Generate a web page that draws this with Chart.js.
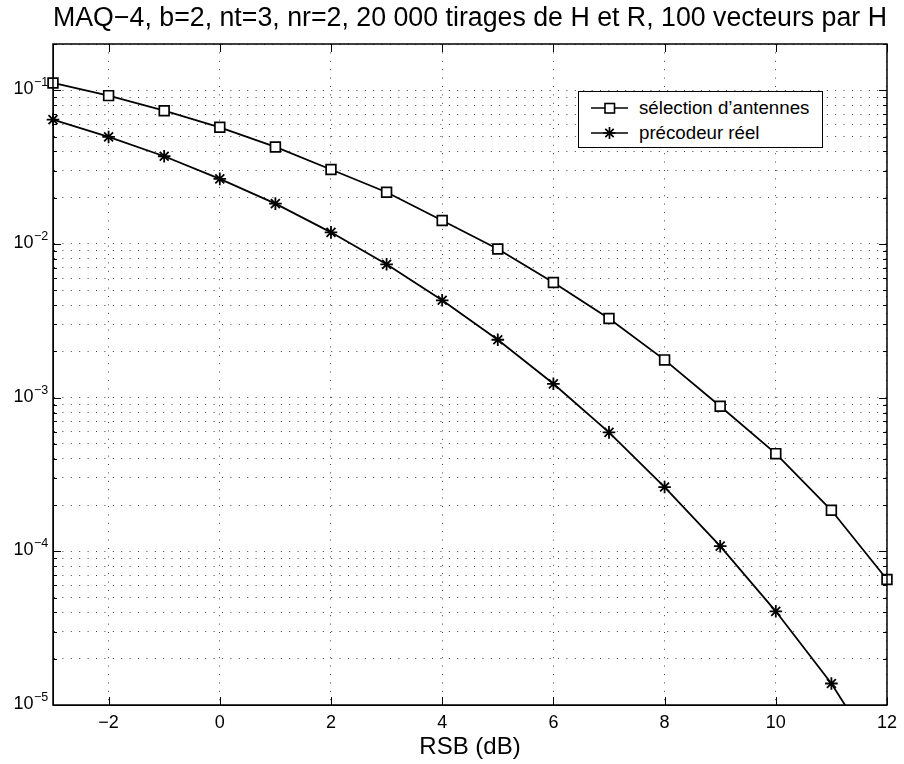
<!DOCTYPE html>
<html>
<head>
<meta charset="utf-8">
<script src="https://cdn.jsdelivr.net/npm/chart.js@4.4.1/dist/chart.umd.min.js"></script>
<style>
  html, body { margin: 0; padding: 0; background: #fff; }
  #wrap { position: relative; width: 904px; height: 764px; }
  #legend {
    position: absolute; left: 578px; top: 91px; width: 245px; height: 57px;
    box-sizing: border-box; border: 1px solid #000; background: #fff;
    font-family: 'Liberation Sans', Arial, Helvetica, sans-serif; font-size: 18.7px; color: #000;
  }
  #legend .row { position: absolute; left: 0; height: 24px; width: 100%; }
  #legend svg { position: absolute; left: 12px; top: 0; }
  #legend span { position: absolute; left: 60px; top: 0; line-height: 24px; white-space: nowrap; }
</style>
</head>
<body>
<div id="wrap">
  <canvas id="berChart" width="904" height="764"></canvas>
  <div id="legend"></div>
</div>
<script>
// SNR axis (dB) and the two BER curves
const snrDb = [-3, -2, -1, 0, 1, 2, 3, 4, 5, 6, 7, 8, 9, 10, 11, 12];
const berSelection = [0.1116, 0.0923, 0.0736, 0.0574, 0.0428, 0.0305, 0.0217, 0.0142,
                      0.00928, 0.00562, 0.00327, 0.00176, 0.000878, 0.000432, 0.000185, 0.0000655];
const berPrecodeur = [0.0644, 0.0497, 0.0372, 0.0265, 0.0183, 0.0119, 0.00737, 0.00430,
                      0.00238, 0.00123, 0.000594, 0.000262, 0.000108, 0.0000407, 0.0000138, 0.0000037];
const seriesLabels = ['sélection d’antennes', 'précodeur réel'];
const titleText = 'MAQ−4, b=2, nt=3, nr=2, 20 000 tirages de H et R, 100 vecteurs par H';

// tick labels
const xTickValues = [-2, 0, 2, 4, 6, 8, 10, 12];
const yDecades    = [1e-5, 1e-4, 1e-3, 1e-2, 1e-1];
const yExponents  = ['−5', '−4', '−3', '−2', '−1'];
const yMinorSteps = [2, 3, 4, 5, 6, 7, 8, 9];
const yMin = 1e-5, yMax = 0.2;

const FONT = "'Liberation Sans', Arial, Helvetica, sans-serif";

// grid at every 1..9 x 10^k, like the matlab log grid
const yGridValues = [];
yDecades.forEach(d => {
    yGridValues.push(d);
    yMinorSteps.forEach(m => { if (d * m <= yMax + 1e-12) yGridValues.push(d * m); });
});

const dottedGrid = { color: 'rgba(0,0,0,0.75)', lineWidth: 1, drawTicks: false };
const dottedBorder = { display: true, color: '#000', width: 1, dash: [1, 7.4] };

// box round the axes + inward tick marks
const framePlugin = {
    id: 'frame',
    afterDatasetsDraw(chart) {
        const { ctx, chartArea: a, scales: { x, y } } = chart;
        ctx.save();
        ctx.strokeStyle = '#000';
        ctx.lineWidth = 1.5;
        ctx.strokeRect(a.left, a.top, a.right - a.left, a.bottom - a.top);
        ctx.lineWidth = 1;
        ctx.beginPath();
        xTickValues.forEach(v => {
            const px = Math.round(x.getPixelForValue(v)) + 0.5;
            ctx.moveTo(px, a.bottom); ctx.lineTo(px, a.bottom - 8);
            ctx.moveTo(px, a.top);    ctx.lineTo(px, a.top + 8);
        });
        yGridValues.forEach(v => {
            const py = Math.round(y.getPixelForValue(v)) + 0.5;
            const len = yDecades.includes(v) ? 8 : 4;
            ctx.moveTo(a.left, py);  ctx.lineTo(a.left + len, py);
            ctx.moveTo(a.right, py); ctx.lineTo(a.right - len, py);
        });
        ctx.stroke();
        ctx.restore();
    }
};

// 10^k labels with a raised exponent
const yLabelPlugin = {
    id: 'yLabels',
    afterDraw(chart) {
        const { ctx, scales: { y } } = chart;
        ctx.save();
        ctx.fillStyle = '#000';
        yDecades.forEach((d, i) => {
            const py = y.getPixelForValue(d);
            ctx.font = '18px ' + FONT;
            ctx.textAlign = 'right';
            ctx.textBaseline = 'middle';
            ctx.fillText('10', 33.5, py - 1);
            ctx.font = '12.5px ' + FONT;
            ctx.textAlign = 'left';
            ctx.textBaseline = 'alphabetic';
            ctx.fillText(yExponents[i], 34, py - 4);
        });
        ctx.restore();
    }
};

const ctx = document.getElementById('berChart').getContext('2d');
const berChart = new Chart(ctx, {
    type: 'line',
    data: {
        datasets: [{
            label: seriesLabels[0],
            data: snrDb.map((x, i) => ({ x: x, y: berSelection[i] })),
            borderColor: '#000',
            borderWidth: 1.8,
            pointStyle: 'rect',
            pointRadius: 6.9,
            pointBorderWidth: 1.7,
            pointBackgroundColor: '#fff',
            pointBorderColor: '#000',
            tension: 0,
            clip: { left: 12, right: 12, top: 12, bottom: 0 }
        }, {
            label: seriesLabels[1],
            data: snrDb.map((x, i) => ({ x: x, y: berPrecodeur[i] })),
            borderColor: '#000',
            borderWidth: 1.8,
            pointStyle: 'star',
            pointRadius: 6.3,
            pointBorderWidth: 1.8,
            pointBackgroundColor: '#000',
            pointBorderColor: '#000',
            tension: 0,
            clip: { left: 12, right: 12, top: 12, bottom: 0 }
        }]
    },
    options: {
        responsive: false,
        animation: false,
        layout: { padding: { top: 0, right: 13, bottom: 0, left: 0 } },
        plugins: {
            legend: { display: false },
            tooltip: { enabled: false },
            title: {
                display: true,
                text: titleText,
                color: '#000',
                fullSize: false,
                font: { family: FONT, size: 27, weight: 'normal' },
                padding: { top: 2, bottom: 9.6 }
            }
        },
        scales: {
            x: {
                type: 'linear',
                min: -3,
                max: 12,
                afterBuildTicks: s => { s.ticks = xTickValues.map(v => ({ value: v })); },
                afterFit: s => { s.height = 59; },
                grid: dottedGrid,
                border: dottedBorder,
                ticks: {
                    padding: 7,
                    color: '#000',
                    font: { family: FONT, size: 18 },
                    callback: v => String(v).replace('-', '−')
                },
                title: {
                    display: true,
                    text: 'RSB (dB)',
                    color: '#000',
                    font: { family: FONT, size: 24 },
                    padding: { top: 0, bottom: 2 }
                }
            },
            y: {
                type: 'logarithmic',
                min: yMin,
                max: yMax,
                afterBuildTicks: s => { s.ticks = yGridValues.map(v => ({ value: v })); },
                afterFit: s => { s.width = 53; },
                grid: dottedGrid,
                border: dottedBorder,
                ticks: { display: false }
            }
        }
    },
    plugins: [framePlugin, yLabelPlugin]
});

// legend box, top right inside the axes
const legendEl = document.getElementById('legend');
const legendMarks = [
    '<rect x="14" y="7.5" width="9.5" height="9.5" fill="#fff" stroke="#000" stroke-width="1.6"/>',
    '<path d="M18.5 6V18M12.5 12H24.5M14.3 7.8L22.7 16.2M22.7 7.8L14.3 16.2" stroke="#000" stroke-width="1.7"/>'
];
const legendRowCenters = [15.7, 40.7];
seriesLabels.forEach((lbl, i) => {
    const row = document.createElement('div');
    row.className = 'row';
    row.style.top = (legendRowCenters[i] - 12) + 'px';
    row.innerHTML = '<svg width="37" height="24"><line x1="0" y1="12" x2="37" y2="12" stroke="#000" stroke-width="1.5"/>' +
        legendMarks[i] + '</svg><span>' + lbl + '</span>';
    legendEl.appendChild(row);
});
</script>
</body>
</html>
